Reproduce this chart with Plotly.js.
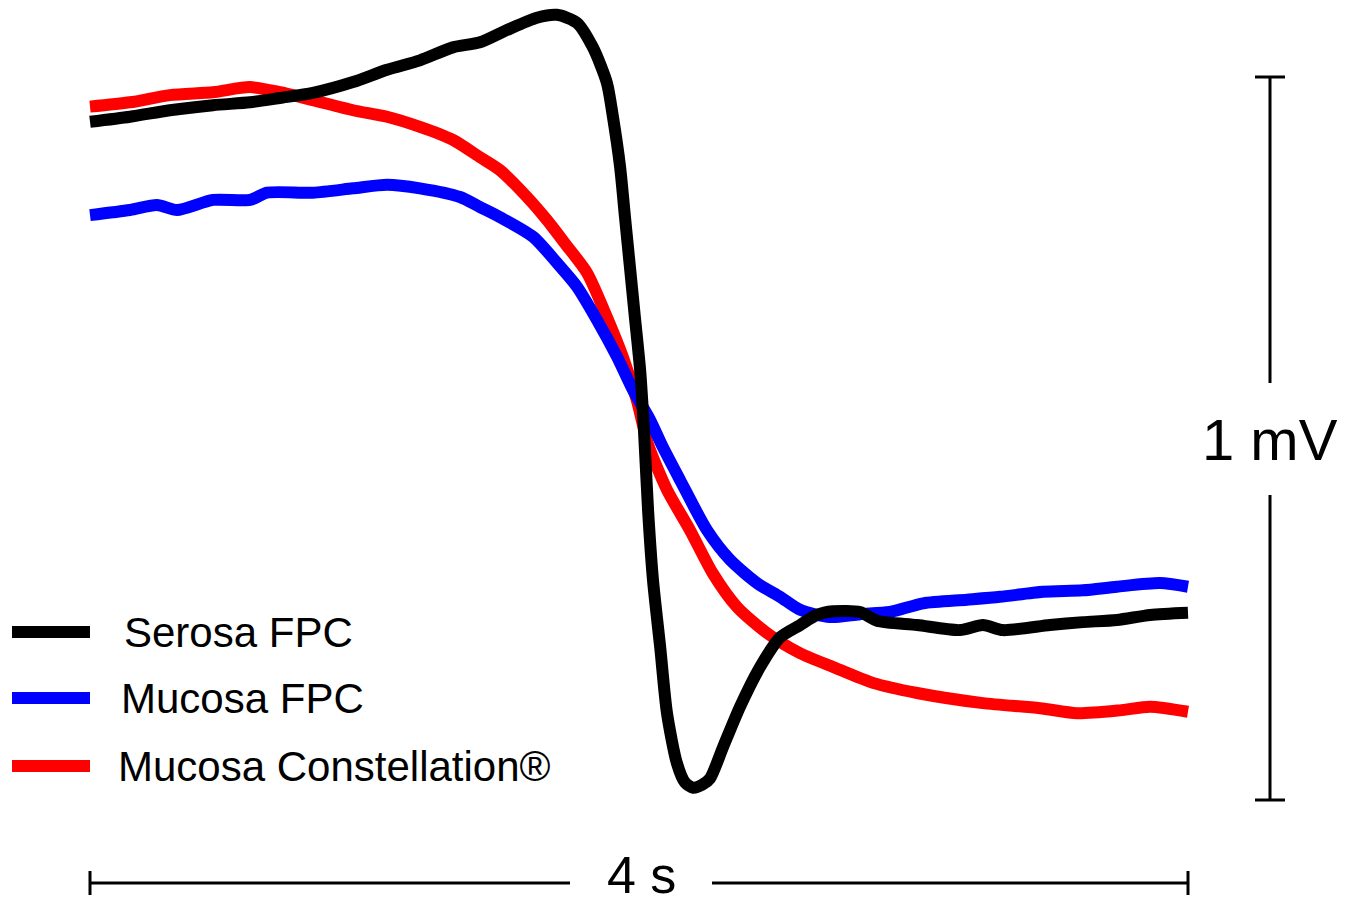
<!DOCTYPE html>
<html>
<head>
<meta charset="utf-8">
<script src="https://cdn.plot.ly/plotly-3.0.1.min.js"></script>
<style>
  html, body { margin: 0; padding: 0; background: #ffffff; }
  #chart { width: 1361px; height: 903px; }
</style>
</head>
<body>
<div id="chart"></div>
<script>
// ---------- data (time in s, potential in mV) ----------
const seriesNames = ['Serosa FPC', 'Mucosa FPC', 'Mucosa Constellation\u00AE'];
const seriesColors = ['#000000', '#0000FF', '#FF0000'];

const timeSerosa = [0.000, 0.146, 0.291, 0.448, 0.583, 0.692, 0.812, 0.958, 1.082, 1.202, 1.322, 1.421, 1.519, 1.628, 1.701, 1.774, 1.832, 1.883, 1.905, 1.931, 1.949, 1.967, 1.985, 2.004, 2.018, 2.033, 2.051, 2.077, 2.102, 2.138, 2.168, 2.197, 2.230, 2.259, 2.306, 2.368, 2.441, 2.514, 2.587, 2.648, 2.707, 2.805, 2.867, 3.013, 3.169, 3.253, 3.326, 3.497, 3.617, 3.741, 3.862, 4.000];
const serosaFPC  = [0.938, 0.945, 0.954, 0.961, 0.965, 0.971, 0.978, 0.993, 1.010, 1.023, 1.041, 1.048, 1.065, 1.082, 1.086, 1.075, 1.041, 0.992, 0.945, 0.876, 0.806, 0.737, 0.668, 0.595, 0.512, 0.401, 0.304, 0.212, 0.120, 0.051, 0.024, 0.017, 0.021, 0.030, 0.073, 0.129, 0.184, 0.225, 0.242, 0.256, 0.261, 0.260, 0.248, 0.242, 0.235, 0.242, 0.235, 0.242, 0.246, 0.249, 0.256, 0.259];

const timeMucosa = [0.000, 0.146, 0.244, 0.317, 0.448, 0.583, 0.645, 0.812, 0.958, 1.082, 1.202, 1.348, 1.421, 1.494, 1.614, 1.701, 1.774, 1.847, 1.920, 1.978, 2.040, 2.087, 2.149, 2.248, 2.332, 2.430, 2.514, 2.587, 2.696, 2.805, 2.914, 3.035, 3.195, 3.315, 3.472, 3.617, 3.741, 3.898, 4.000];
const mucosaFPC  = [0.809, 0.816, 0.823, 0.816, 0.830, 0.830, 0.840, 0.840, 0.846, 0.851, 0.846, 0.834, 0.820, 0.806, 0.779, 0.743, 0.710, 0.664, 0.613, 0.567, 0.526, 0.488, 0.443, 0.373, 0.332, 0.300, 0.281, 0.263, 0.253, 0.257, 0.260, 0.272, 0.277, 0.281, 0.288, 0.290, 0.295, 0.300, 0.295];

const timeConst = [0.000, 0.146, 0.291, 0.448, 0.583, 0.692, 0.812, 0.958, 1.082, 1.202, 1.322, 1.421, 1.494, 1.592, 1.665, 1.730, 1.811, 1.883, 1.941, 1.992, 2.033, 2.102, 2.186, 2.268, 2.357, 2.466, 2.587, 2.707, 2.852, 3.013, 3.253, 3.461, 3.596, 3.752, 3.862, 4.000];
const mucosaConstellation = [0.959, 0.965, 0.975, 0.979, 0.986, 0.979, 0.968, 0.954, 0.945, 0.931, 0.913, 0.889, 0.871, 0.834, 0.802, 0.770, 0.729, 0.668, 0.613, 0.553, 0.492, 0.429, 0.373, 0.314, 0.267, 0.231, 0.203, 0.184, 0.162, 0.148, 0.134, 0.127, 0.120, 0.124, 0.129, 0.122];

// scale bars
const scaleTime = 4;      // s
const scaleVolt = 1;      // mV
const scaleTimeLabel = '4 s';
const scaleVoltLabel = '1 mV';

// ---------- layout helpers ----------
const W = 1361, H = 903;
const x0px = 90, pxPerS = (1188 - 90) / scaleTime;
const y0px = 800, pxPerMV = (800 - 77) / scaleVolt;
const xRange = [-x0px / pxPerS, (W - x0px) / pxPerS];
const yRange = [-(H - y0px) / pxPerMV, y0px / pxPerMV];
const dx = px => px / pxPerS;          // pixel length -> s
const dy = px => px / pxPerMV;         // pixel length -> mV

const traces = [];
const lineW = 12;

const series = [
  {t: timeConst,  v: mucosaConstellation, idx: 2},
  {t: timeMucosa, v: mucosaFPC,           idx: 1},
  {t: timeSerosa, v: serosaFPC,           idx: 0}
];
series.forEach(s => {
  traces.push({
    x: s.t, y: s.v, type: 'scatter', mode: 'lines',
    name: seriesNames[s.idx], showlegend: false, hoverinfo: 'skip',
    line: {color: seriesColors[s.idx], width: lineW, shape: 'spline', smoothing: 0.7}
  });
});

// vertical scale bar (1 mV)
const xv = dx(1270 - x0px);
const capV = dx(15);
const gapLo = dy(800 - 495), gapHi = dy(800 - 383);
traces.push({
  x: [xv, xv, null, xv, xv, null, xv - capV, xv + capV, null, xv - capV, xv + capV],
  y: [0, gapLo, null, gapHi, scaleVolt, null, 0, 0, null, scaleVolt, scaleVolt],
  type: 'scatter', mode: 'lines', showlegend: false, hoverinfo: 'skip',
  line: {color: '#000000', width: 3}
});

// horizontal scale bar (4 s)
const yh = -dy(883 - y0px);
const capH = dy(12);
const gapL = dx(570 - x0px), gapR = dx(712 - x0px);
traces.push({
  x: [0, gapL, null, gapR, scaleTime, null, 0, 0, null, scaleTime, scaleTime],
  y: [yh, yh, null, yh, yh, null, yh - capH, yh + capH, null, yh - capH, yh + capH],
  type: 'scatter', mode: 'lines', showlegend: false, hoverinfo: 'skip',
  line: {color: '#000000', width: 3}
});

// custom legend samples
const legendY = [632, 698, 766].map(p => (y0px - p) / pxPerMV);
const legX0 = dx(12 - x0px), legX1 = dx(90 - x0px);
[0, 1, 2].forEach(i => {
  traces.push({
    x: [legX0, legX1], y: [legendY[i], legendY[i]],
    type: 'scatter', mode: 'lines', showlegend: false, hoverinfo: 'skip',
    line: {color: seriesColors[i], width: lineW}
  });
});

const font = 'Liberation Sans, Arial, Helvetica, sans-serif';
const legendTextX = [122, 119, 116].map(p => dx(p - x0px));
const annotations = [0, 1, 2].map(i => ({
  x: legendTextX[i], y: legendY[i], xref: 'x', yref: 'y',
  text: seriesNames[i], showarrow: false, xanchor: 'left', yanchor: 'middle',
  font: {family: font, size: 42, color: '#000000'}
}));
annotations.push({
  x: xv, y: (gapLo + gapHi) / 2, xref: 'x', yref: 'y',
  text: scaleVoltLabel, showarrow: false, xanchor: 'center', yanchor: 'middle',
  font: {family: font, size: 58, color: '#000000'}
});
annotations.push({
  x: (gapL + gapR) / 2, y: yh + dy(8), xref: 'x', yref: 'y',
  text: scaleTimeLabel, showarrow: false, xanchor: 'center', yanchor: 'middle',
  font: {family: font, size: 52, color: '#000000'}
});

const layout = {
  width: W, height: H,
  margin: {l: 0, r: 0, t: 0, b: 0, pad: 0},
  paper_bgcolor: '#ffffff', plot_bgcolor: '#ffffff',
  showlegend: false,
  xaxis: {range: xRange, visible: false, fixedrange: true},
  yaxis: {range: yRange, visible: false, fixedrange: true},
  annotations: annotations
};

Plotly.newPlot('chart', traces, layout, {displayModeBar: false, staticPlot: true});
</script>
</body>
</html>
